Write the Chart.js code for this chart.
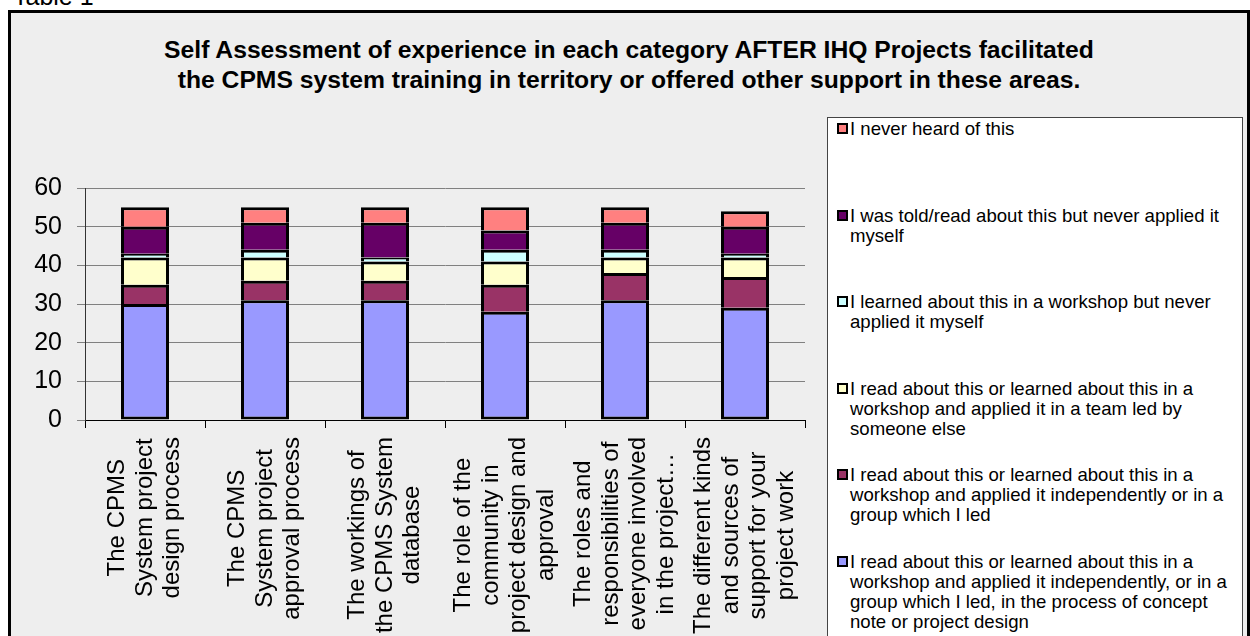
<!DOCTYPE html>
<html>
<head>
<meta charset="utf-8">
<script src="https://cdn.jsdelivr.net/npm/chart.js@4.4.0/dist/chart.umd.min.js"></script>
<style>
  body { margin: 0; background: #fff; font-family: "Liberation Sans", Arial, sans-serif; }
  #wrap { position: relative; width: 1250px; height: 636px; overflow: hidden; }
  #caption { position: absolute; left: 13px; top: -16px; font-size: 25px; line-height: 25px; }
  #box { position: absolute; left: 8px; top: 10px; width: 1236px; height: 640px; border: 3px solid #000; background: #eeeeee; }
  #title { position: absolute; left: 8px; width: 1242px; top: 35px; text-align: center; font-weight: bold; font-size: 24.7px; line-height: 30px; }
  #chart { position: absolute; left: 0; top: 0; }
  #legend { position: absolute; left: 827px; top: 117px; width: 414px; height: 600px; background: #fff; border: 1px solid #444; }
  .item { position: absolute; left: 9px; font-size: 18.6px; line-height: 20px; }
  .mark { position: absolute; left: 0; top: 4px; width: 7px; height: 7px; border: 2px solid #000; }
  .txt { margin-left: 13px; white-space: nowrap; }
</style>
</head>
<body>
<div id="wrap">
  <div id="caption">Table 1</div>
  <div id="box"></div>
  <div id="title">Self Assessment of experience in each category AFTER IHQ Projects facilitated<br>the CPMS system training in territory or offered other support in these areas.</div>
  <canvas id="chart" width="1250" height="636"></canvas>
  <div id="legend"></div>
</div>
<script>
// categories, one line per array entry as they wrap under the axis
const categories = [
  ["The CPMS", "System project", "design process"],
  ["The CPMS", "System project", "approval process"],
  ["The workings of", "the CPMS System", "database"],
  ["The role of the", "community in", "project design and", "approval"],
  ["The roles and", "responsibilities of", "everyone involved", "in the project…"],
  ["The different kinds", "and sources of", "support for your", "project work"]
];

// series, bottom of the stack first
const ledConceptVals  = [30, 31, 31, 28, 31, 29];
const ledGroupVals    = [5, 5, 5, 7, 7, 8];
const teamVals        = [7, 6, 5, 6, 4, 5];
const workshopVals    = [1, 2, 1, 3, 2, 1];
const toldVals        = [7, 7, 9, 5, 7, 7];
const neverHeardVals  = [5, 4, 4, 6, 4, 4];

const seriesLabels = [
  ["I read about this or learned about this in a", "workshop and applied it independently,  or in a", "group which I led, in the process of concept", "note or project design"],
  ["I read about this or learned about this in a", "workshop and applied it independently or in a", "group which I led"],
  ["I read about this or learned about this in a", "workshop and applied it in a team led by", "someone else"],
  ["I learned about this in a workshop but never", "applied it myself"],
  ["I was told/read about this but never applied it", "myself"],
  ["I never heard of this"]
];
const seriesColors = ['#9999FF', '#993366', '#FFFFCC', '#CCFFFF', '#660066', '#FF8080'];
const seriesValues = [ledConceptVals, ledGroupVals, teamVals, workshopVals, toldVals, neverHeardVals];

const yTicks = [0, 10, 20, 30, 40, 50, 60];

const FONT = '"Liberation Sans", Arial, sans-serif';

const datasets = seriesValues.map((vals, i) => ({
  label: seriesLabels[i].join(' '),
  data: vals,
  backgroundColor: seriesColors[i],
  borderColor: '#000',
  borderWidth: 3,
  borderSkipped: i === 0 ? false : 'start',
  categoryPercentage: 0.4,
  barPercentage: 1
}));

// rotated, centred multi-line category labels
const catLabels = {
  id: 'catLabels',
  afterDraw(chart) {
    const ctx = chart.ctx;
    const xs = chart.scales.x;
    ctx.save();
    ctx.font = '24px ' + FONT;
    ctx.fillStyle = '#000';
    ctx.textAlign = 'center';
    ctx.textBaseline = 'middle';
    categories.forEach((lines, i) => {
      const cx = xs.getPixelForValue(i);
      const maxW = Math.max(...lines.map(l => ctx.measureText(l).width));
      const cy = xs.top + 17 + maxW / 2;
      const pitch = 27.5;
      lines.forEach((line, j) => {
        const lx = cx + (j - (lines.length - 1) / 2) * pitch;
        ctx.save();
        ctx.translate(lx, cy);
        ctx.rotate(-Math.PI / 2);
        ctx.fillText(line, 0, 0);
        ctx.restore();
      });
    });
    ctx.restore();
  }
};

const chart = new Chart(document.getElementById('chart'), {
  type: 'bar',
  data: { labels: categories.map(c => c.join(' ')), datasets: datasets },
  options: {
    responsive: false,
    animation: false,
    layout: { padding: { left: 0, top: 188, right: 445, bottom: 0 } },
    plugins: {
      legend: { display: false },
      title: { display: false },
      tooltip: { enabled: false }
    },
    scales: {
      x: {
        stacked: true,
        grid: { display: true, drawOnChartArea: false, tickLength: 8, color: '#000', offset: true },
        border: { color: '#000' },
        ticks: { display: false },
        afterFit: s => { s.height = 216; }
      },
      y: {
        stacked: true,
        min: 0,
        max: 60,
        afterBuildTicks: s => { s.ticks = yTicks.map(v => ({ value: v })); },
        ticks: { color: '#000', padding: 15, font: { family: FONT, size: 25 } },
        grid: { color: '#808080', tickLength: 8 },
        border: { color: '#333' },
        afterFit: s => { s.width = 85; }
      }
    }
  },
  plugins: [catLabels]
});

// legend box, top item is the last series
const legend = document.getElementById('legend');
chart.data.datasets.slice().reverse().forEach((ds, k) => {
  const idx = chart.data.datasets.length - 1 - k;
  const item = document.createElement('div');
  item.className = 'item';
  item.style.top = (1 + k * 86.6) + 'px';
  const mark = document.createElement('div');
  mark.className = 'mark';
  mark.style.background = ds.backgroundColor;
  const txt = document.createElement('div');
  txt.className = 'txt';
  txt.innerHTML = seriesLabels[idx].join('<br>');
  item.appendChild(mark);
  item.appendChild(txt);
  legend.appendChild(item);
});
</script>
</body>
</html>
